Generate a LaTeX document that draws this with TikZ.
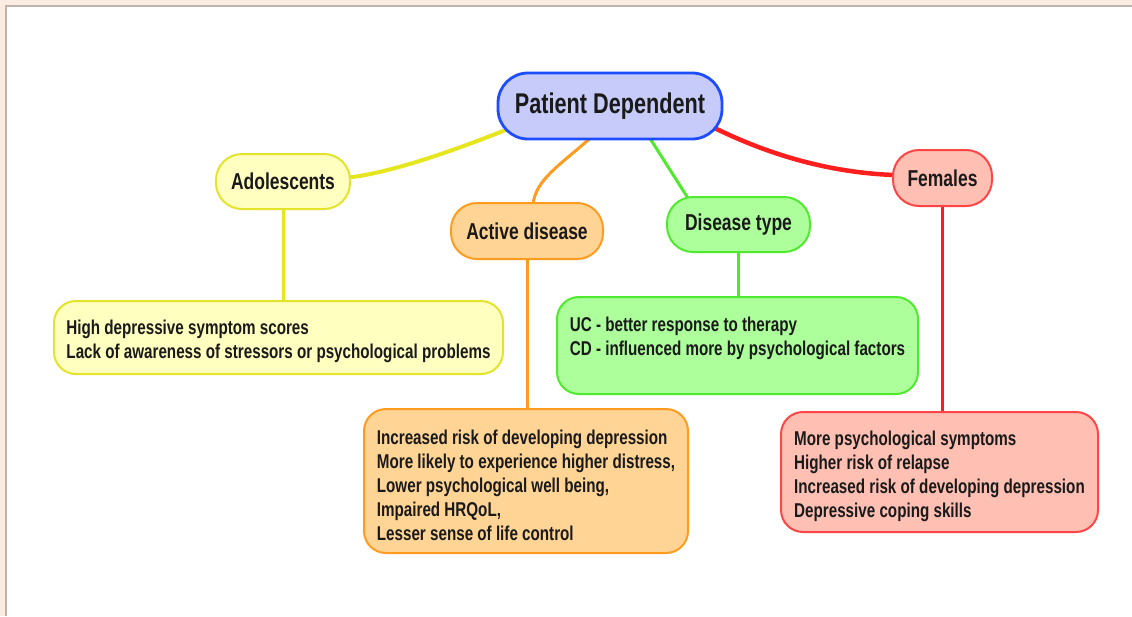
\documentclass[tikz,border=0pt]{standalone}
\usepackage{fontspec}
\setmainfont{Liberation Sans}[FakeStretch=0.76]
\usetikzlibrary{backgrounds}
\definecolor{pagebg}{HTML}{FBECE2}
\definecolor{framegrey}{HTML}{BFB3AB}
\definecolor{pdfill}{HTML}{C6CBF9}
\definecolor{pddraw}{HTML}{1E4DFF}
\definecolor{yfill}{HTML}{FFFFC0}
\definecolor{ydraw}{HTML}{E3E32B}
\definecolor{yline}{HTML}{E6E61E}
\definecolor{ofill}{HTML}{FFD494}
\definecolor{odraw}{HTML}{FF9C1F}
\definecolor{gfill}{HTML}{ADFF9C}
\definecolor{gdraw}{HTML}{4FEA2E}
\definecolor{rfill}{HTML}{FFC0B3}
\definecolor{rdraw}{HTML}{FF4545}
\definecolor{rline}{HTML}{FF1E1E}
\definecolor{txt}{HTML}{1A1A1A}
\newcommand\titlefnt{\bfseries\fontsize{28.5}{32}\selectfont}
\newcommand\topicfnt{\bfseries\fontsize{23}{27}\selectfont}
\newcommand\detailfnt{\bfseries\fontsize{20}{24}\selectfont}
\newcommand\firstln{\rule{0pt}{23pt}}
\tikzset{
  topic/.style={draw, line width=2pt, rounded corners=26pt, font=\topicfnt, text=txt, inner sep=0pt},
  detail/.style={draw, line width=2pt, rounded corners=22pt, font=\detailfnt, text=txt, align=left, inner sep=0pt},
  conn/.style={line width=3pt, line cap=round},
}
\begin{document}
\begin{tikzpicture}[x=1pt,y=-1pt]
\useasboundingbox (0,0) rectangle (1132,616);
% nodes
\node[topic, font=\titlefnt, rounded corners=30pt, line width=2.8pt, fill=pdfill, draw=pddraw, minimum width=224pt, minimum height=66pt] (pd) at (610,106) {Patient Dependent};
\node[topic, fill=yfill, draw=ydraw, minimum width=134pt, minimum height=55pt] (ado) at (283,181.5) {Adolescents};
\node[topic, fill=ofill, draw=odraw, minimum width=152pt, minimum height=56pt] (act) at (527,231) {Active disease};
\node[topic, fill=gfill, draw=gdraw, minimum width=143pt, minimum height=55pt] (dtype) at (738.5,224.5) {Disease type};
\node[topic, fill=rfill, draw=rdraw, minimum width=99pt, minimum height=56pt] (fem) at (942.5,178) {Females};

\node[detail, fill=yfill, draw=ydraw, minimum width=449pt, minimum height=73pt] (yd) at (278.5,337.5)
  {\firstln High depressive symptom scores\\Lack of awareness of stressors or psychological problems};
\node[detail, fill=ofill, draw=odraw, minimum width=324pt, minimum height=144pt] (od) at (526,481)
  {\firstln Increased risk of developing depression\\More likely to experience higher distress,\\Lower psychological well being,\\Impaired HRQoL,\\Lesser sense of life control};
\node[detail, fill=gfill, draw=gdraw, minimum width=361pt, minimum height=97pt] (gd) at (737.5,345.5)
  {\rule{0pt}{19pt}UC - better response to therapy\\CD - influenced more by psychological factors\\\mbox{}};
\node[detail, fill=rfill, draw=rdraw, minimum width=317pt, minimum height=120pt] (rd) at (939.5,472)
  {\firstln More psychological symptoms\\Higher risk of relapse\\Increased risk of developing depression\\Depressive coping skills};

\begin{scope}[on background layer]
  \fill[pagebg] (0,0) rectangle (1132,616);
  \fill[white] (6,6) rectangle (1132,616);
  \draw[framegrey, line width=1.5pt] (1132,6) -- (6,6) -- (6,616);
  % connectors
  \draw[conn, yline, line width=4pt] ([shift={(8,-10)}]pd.south west) .. controls (460,148) and (395,172) .. ([shift={(-2,-4)}]ado.east);
  \draw[conn, odraw] ([shift={(-20,-2)}]pd.south) .. controls (560,165) and (535,180) .. ([shift={(6,3)}]act.north);
  \draw[conn, gdraw] ([shift={(40,-2)}]pd.south) -- ([shift={(-50,3)}]dtype.north);
  \draw[conn, rline, line width=4.5pt] ([shift={(-8,-12)}]pd.south east) .. controls (780,160) and (840,173) .. ([shift={(2,-3)}]fem.west);
  \draw[conn, yline] (ado.south) -- (ado.south |- yd.north);
  \draw[conn, odraw] (act.south) -- (act.south |- od.north);
  \draw[conn, gdraw] (dtype.south) -- (dtype.south |- gd.north);
  \draw[conn, rline] (fem.south) -- (fem.south |- rd.north);
\end{scope}
\end{tikzpicture}
\end{document}
